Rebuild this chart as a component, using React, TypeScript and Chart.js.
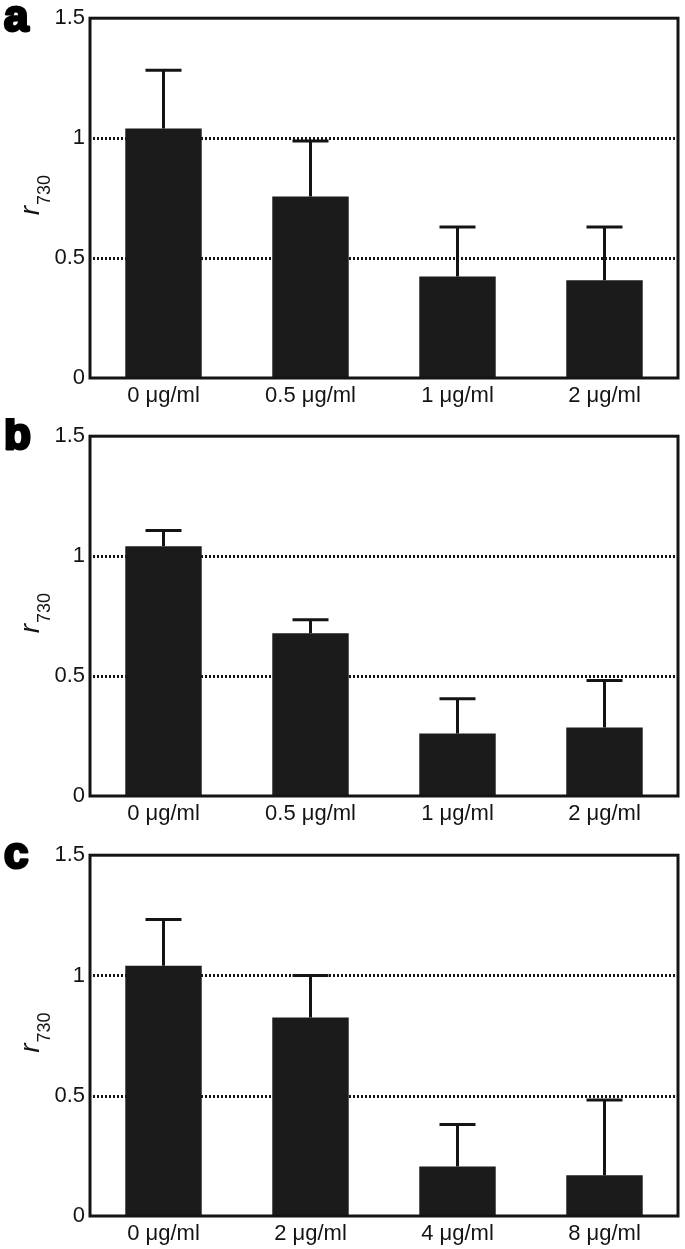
import React, { useEffect, useRef } from "react";
import { Chart, registerables } from "chart.js";

Chart.register(...registerables);

const categoriesA = ["0 μg/ml", "0.5 μg/ml", "1 μg/ml", "2 μg/ml"];
const categoriesB = ["0 μg/ml", "0.5 μg/ml", "1 μg/ml", "2 μg/ml"];
const categoriesC = ["0 μg/ml", "2 μg/ml", "4 μg/ml", "8 μg/ml"];

const meansA = [1.04, 0.757, 0.423, 0.408];
const upperA = [1.283, 0.988, 0.63, 0.63];

const meansB = [1.041, 0.679, 0.261, 0.286];
const upperB = [1.107, 0.735, 0.405, 0.482];

const meansC = [1.04, 0.825, 0.206, 0.169];
const upperC = [1.233, 1.0, 0.38, 0.482];

const yTicks = [0, 0.5, 1, 1.5];
const dottedLevels = [0.5, 1];

const FONT = "'Liberation Sans', Arial, sans-serif";
const INK = "#141414";

type PanelProps = {
  letter: string;
  labels: string[];
  means: number[];
  upper: number[];
  top: number;
  height: number;
  plotBottom: number;
};

function Panel({ letter, labels, means, upper, top, height, plotBottom }: PanelProps) {
  const ref = useRef<HTMLCanvasElement | null>(null);

  useEffect(() => {
    if (!ref.current) return;
    const decor = {
      id: "decor" + letter,
      beforeDatasetsDraw(chart: any) {
        const { ctx, chartArea, scales } = chart;
        const y = scales.y;
        ctx.save();
        ctx.strokeStyle = INK;
        ctx.lineWidth = 3;
        ctx.setLineDash([2, 2]);
        for (const v of dottedLevels) {
          const py = Math.round(y.getPixelForValue(v)) + 0.5;
          ctx.beginPath();
          ctx.moveTo(chartArea.left + 3, py);
          ctx.lineTo(chartArea.right, py);
          ctx.stroke();
        }
        ctx.restore();
      },
      afterDatasetsDraw(chart: any) {
        const { ctx, chartArea, scales } = chart;
        const y = scales.y;
        const meta = chart.getDatasetMeta(0);
        ctx.save();
        ctx.strokeStyle = INK;
        ctx.lineWidth = 3;
        meta.data.forEach((bar: any, i: number) => {
          const x = bar.x;
          const y0 = y.getPixelForValue(means[i]);
          const y1 = y.getPixelForValue(upper[i]);
          ctx.beginPath();
          ctx.moveTo(x, y0);
          ctx.lineTo(x, y1);
          ctx.moveTo(x - 18, y1);
          ctx.lineTo(x + 18, y1);
          ctx.stroke();
        });
        // frame
        ctx.lineWidth = 3;
        ctx.strokeRect(
          chartArea.left,
          chartArea.top,
          chartArea.right - chartArea.left,
          chartArea.bottom - chartArea.top
        );
        // y-axis title r_730
        const cy = (chartArea.top + chartArea.bottom) / 2 - 3;
        ctx.fillStyle = INK;
        ctx.translate(39, cy);
        ctx.rotate(-Math.PI / 2);
        ctx.font = `italic 28px ${FONT}`;
        const wr = ctx.measureText("r").width;
        ctx.font = `18px ${FONT}`;
        const ws = ctx.measureText("730").width;
        const start = -(wr + ws + 1) / 2;
        ctx.font = `italic 28px ${FONT}`;
        ctx.textBaseline = "alphabetic";
        ctx.fillText("r", start, 0);
        ctx.font = `18px ${FONT}`;
        ctx.fillText("730", start + wr + 1, 11);
        ctx.restore();
        // panel letter
        ctx.save();
        ctx.fillStyle = "#000";
        ctx.strokeStyle = "#000";
        ctx.lineWidth = 3;
        ctx.lineJoin = "round";
        ctx.font = `bold 44px ${FONT}`;
        ctx.textBaseline = "alphabetic";
        ctx.fillText(letter, 4, 31);
        ctx.strokeText(letter, 4, 31);
        ctx.restore();
      },
    };

    const chart = new Chart(ref.current, {
      type: "bar",
      data: {
        labels,
        datasets: [
          {
            data: means,
            backgroundColor: "#1b1b1b",
            borderWidth: 0,
            barPercentage: 0.52,
            categoryPercentage: 1,
          },
        ],
      },
      options: {
        responsive: false,
        animation: false,
        devicePixelRatio: 1,
        layout: { padding: { top: 14, right: 7, left: 0, bottom: 0 } },
        plugins: { legend: { display: false }, tooltip: { enabled: false } },
        scales: {
          x: {
            grid: { display: false, drawTicks: false },
            border: { display: false },
            ticks: {
              color: INK,
              font: { family: FONT, size: 22 },
              padding: 5,
              maxRotation: 0,
            },
            afterFit: (s: any) => {
              s.height = height - plotBottom;
            },
          },
          y: {
            min: 0,
            max: 1.5,
            afterBuildTicks: (s: any) => {
              s.ticks = yTicks.map((v) => ({ value: v }));
            },
            grid: { display: false, drawTicks: false },
            border: { display: false },
            ticks: {
              color: INK,
              font: { family: FONT, size: 22 },
              padding: 5,
              callback: (v: any) => String(v),
            },
            afterFit: (s: any) => {
              s.width = 90;
            },
          },
        },
      },
      plugins: [decor],
    });
    return () => chart.destroy();
  }, []);

  return (
    <canvas
      ref={ref}
      width={685}
      height={height}
      style={{ position: "absolute", left: 0, top, width: 685, height }}
    />
  );
}

export default function App() {
  return (
    <div
      style={{
        position: "absolute",
        left: 0,
        top: 0,
        width: 685,
        height: 1249,
        overflow: "hidden",
        background: "#fff",
      }}
    >
      <Panel letter="a" labels={categoriesA} means={meansA} upper={upperA} top={0} height={418} plotBottom={378} />
      <Panel letter="b" labels={categoriesB} means={meansB} upper={upperB} top={418} height={418} plotBottom={378} />
      <Panel letter="c" labels={categoriesC} means={meansC} upper={upperC} top={837} height={412} plotBottom={379} />
    </div>
  );
}
